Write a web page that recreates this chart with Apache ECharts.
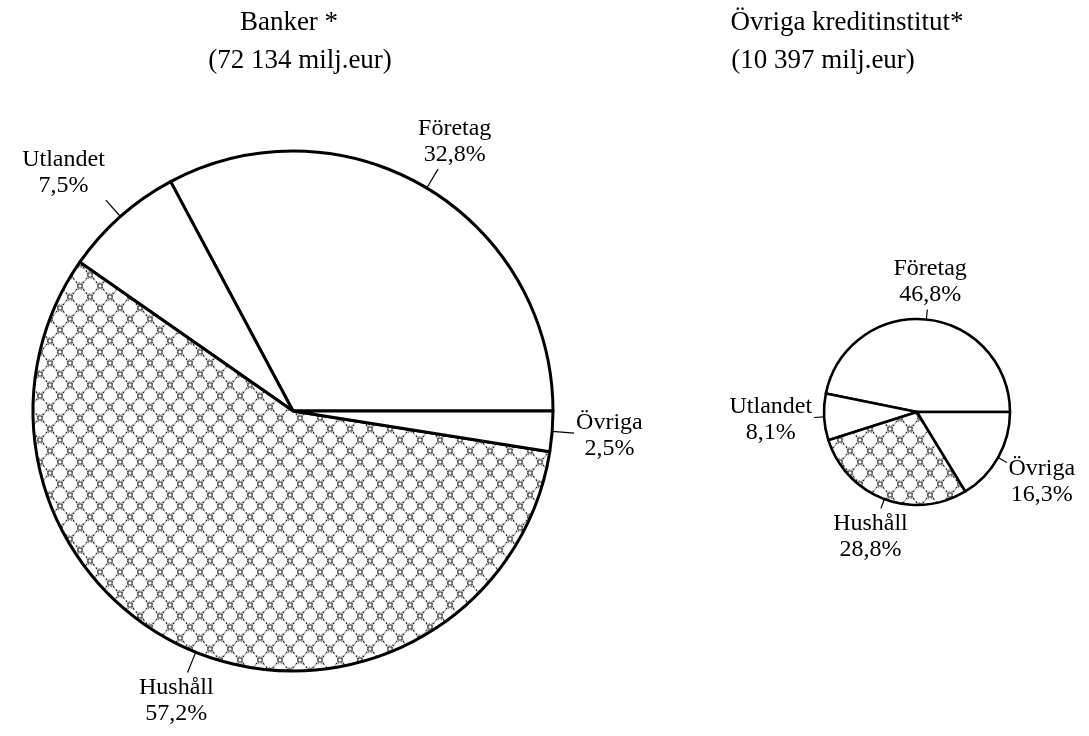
<!DOCTYPE html>
<html>
<head>
<meta charset="utf-8">
<script src="https://cdn.jsdelivr.net/npm/echarts@6/dist/echarts.min.js"></script>
<style>
  html, body { margin: 0; padding: 0; background: #fff; }
  #chart { width: 1089px; height: 736px; }
</style>
</head>
<body>
<div id="chart"></div>
<script>
const categories = ["Företag", "Utlandet", "Hushåll", "Övriga"];
const bankShares = [32.8, 7.5, 57.2, 2.5];
const otherShares = [46.8, 8.1, 28.8, 16.3];
const bankTitle = ["Banker *", "(72 134 milj.eur)"];
const otherTitle = ["Övriga kreditinstitut*", "(10 397 milj.eur)"];

const FONT = "'Liberation Serif', 'Times New Roman', serif";

// dotted ring lattice used for the Hushåll slice
const makeHatch = () => {
  const c = document.createElement("canvas");
  c.width = 20;
  c.height = 22;
  const g = c.getContext("2d");
  g.fillStyle = "#fff";
  g.fillRect(0, 0, 20, 22);
  g.strokeStyle = "#444";
  g.lineWidth = 1;
  g.setLineDash([1, 2]);
  [[10, 0], [0, 11], [20, 11], [10, 22]].forEach(([x, y]) => {
    g.beginPath();
    g.arc(x, y, 7.5, 0, Math.PI * 2);
    g.stroke();
  });
  g.setLineDash([]);
  g.strokeStyle = "#222";
  g.fillStyle = "#222";
  [[0, 0], [20, 0], [0, 22], [20, 22], [10, 11]].forEach(([x, y]) => {
    g.strokeRect(x - 2, y - 2, 4, 4);
    [[-3.5, -3.5], [3.5, -3.5], [-3.5, 3.5], [3.5, 3.5]].forEach(([dx, dy]) => {
      g.fillRect(x + dx - 0.7, y + dy - 0.7, 1.4, 1.4);
    });
  });
  return c;
};
const hatch = makeHatch();

const toData = (values) =>
  values.map((v, i) => ({
    name: categories[i],
    value: v,
    itemStyle: i === 2 ? { color: { image: hatch, repeat: "repeat" } } : { color: "#fff" },
  }));

const fmtPct = (v) => v.toFixed(1).replace(".", ",") + "%";

// put the text just beyond the end of the short leader line
const placeLabel = (params) => {
  const pts = params.labelLinePoints;
  if (!pts) return {};
  const a = pts[0];
  const b = pts[pts.length - 1];
  const len = Math.hypot(b[0] - a[0], b[1] - a[1]) || 1;
  const cx = (b[0] - a[0]) / len;
  const cy = (b[1] - a[1]) / len;
  const w = params.labelRect.width / 2;
  const h = params.labelRect.height / 2;
  if (Math.abs(cx) > 0.6 && Math.abs(cy) > 0.6) {
    // diagonal: hang the text off its corner
    return {
      x: b[0] + Math.sign(cx) * (w + 1),
      y: b[1] + Math.sign(cy) * (h + 1),
      align: "center",
      verticalAlign: "middle",
      labelLinePoints: pts,
    };
  }
  const t = Math.min(Math.abs(cx) > 1e-3 ? w / Math.abs(cx) : 1e9, Math.abs(cy) > 1e-3 ? h / Math.abs(cy) : 1e9) + 2;
  return {
    x: b[0] + cx * t,
    y: b[1] + cy * t,
    align: "center",
    verticalAlign: "middle",
    labelLinePoints: pts,
  };
};

const pieSeries = (values, center, radius, lineLen, border, fontSize) => ({
  type: "pie",
  center: center,
  radius: radius,
  startAngle: 0,
  clockwise: false,
  silent: true,
  itemStyle: { borderColor: "#000", borderWidth: border },
  label: {
    show: true,
    position: "outside",
    color: "#000",
    fontFamily: FONT,
    fontSize: fontSize,
    lineHeight: fontSize + 2,
    align: "center",
    formatter: (p) => p.name + "\n" + fmtPct(p.value),
  },
  labelLine: {
    show: true,
    length: lineLen,
    length2: 0,
    smooth: false,
    lineStyle: { color: "#000", width: 1.2 },
  },
  labelLayout: placeLabel,
  emphasis: { disabled: true },
  data: toData(values),
});

const titleLine = (text, x, y) => ({
  text: text,
  left: x,
  top: y,
  textAlign: "center",
  textStyle: { fontFamily: FONT, fontSize: 27, fontWeight: "normal", color: "#000" },
});

const myChart = echarts.init(document.getElementById("chart"));
myChart.setOption({
  backgroundColor: "#fff",
  animation: false,
  title: [
    titleLine(bankTitle[0], 284, 4),
    titleLine(bankTitle[1], 295, 42),
    titleLine(otherTitle[0], 842, 4),
    titleLine(otherTitle[1], 818, 42),
  ],
  series: [
    pieSeries(bankShares, [293, 411], 260, 22, 3, 24),
    pieSeries(otherShares, [917, 412], 93, 10, 2.6, 24),
  ],
});
</script>
</body>
</html>
